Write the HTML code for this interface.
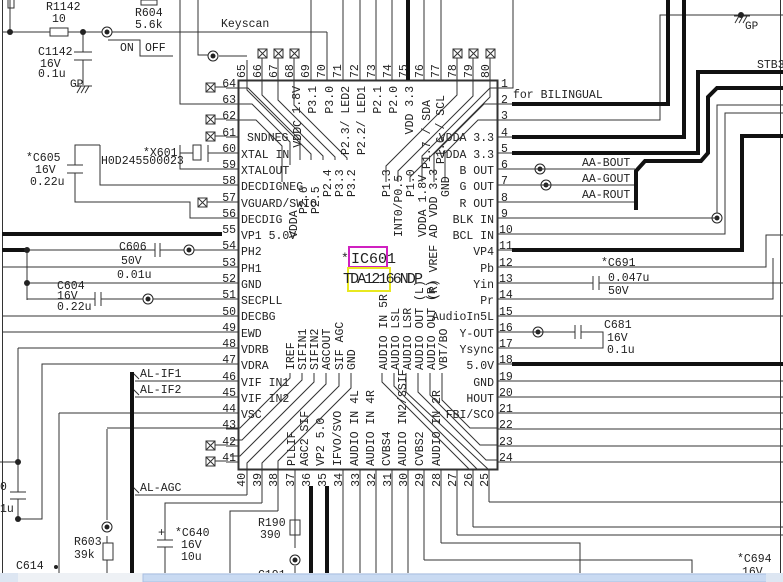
<!DOCTYPE html>
<html><head><meta charset="utf-8"><style>
html,body{margin:0;padding:0;background:#fff;width:783px;height:582px;overflow:hidden}
svg{display:block}
text{font-family:"Liberation Mono",monospace;font-size:11.5px;fill:#222}
.s{font-size:11px}
</style></head><body>
<svg width="783" height="582" viewBox="0 0 783 582" xmlns="http://www.w3.org/2000/svg">
<g stroke="#333" stroke-width="1" fill="none">
<!-- borders -->
<line x1="2.5" y1="0" x2="2.5" y2="573"/>
<line x1="780.5" y1="0" x2="780.5" y2="573"/>
<!-- IC box -->
<rect x="238.5" y="80.5" width="259" height="389" stroke-width="2"/>
</g>

<!-- left pins -->
<g stroke="#333" fill="none">
<path d="M226 88H238M226 104H238M226 120H238M226 137H238M226 153H238M226 169H238M226 185H238M226 202H238M226 218H238M226 250H238M226 267H238M226 283H238M226 299H238M226 316H238M226 332H238M226 348H238M226 364H238M226 381H238M226 397H238M226 413H238M226 429H238M226 446H238M226 462H238"/>
<path d="M498 88H512M498 104H512M498 120H512M498 137H512M498 153H512M498 169H512M498 185H512M498 202H512M498 218H512M498 234H512M498 250H512M498 267H512M498 283H512M498 299H512M498 316H512M498 332H512M498 348H512M498 364H512M498 381H512M498 397H512M498 413H512M498 429H512M498 446H512M498 462H512"/>
<!-- top pin lines -->
<path d="M247 60V80M262 56V80M278 56V80M294 56V80M311 0V80M327 32V80M343 0V80M360 0V80M376 0V80M392 0V80M424 0V80M441 0V80M457 56V80M473 56V80M490 56V80"/>
<!-- bottom pin lines -->
<path d="M247 470V495M262 470V503M278 470V511M295 470V520M343 470V573M360 470V573M376 470V573M392 470V573M408 470V573M424 470V560M441 470V543M457 470V535M473 470V527M489 470V502"/>
</g>
<g stroke="#111" stroke-width="4" fill="none">
<path d="M408 0V80"/>
<path d="M311 486V573M327 486V573"/>
</g>

<!-- left pin numbers -->
<g text-anchor="end">
<text x="236" y="87">64</text><text x="236" y="103">63</text><text x="236" y="119">62</text><text x="236" y="136">61</text>
<text x="236" y="152">60</text><text x="236" y="168">59</text><text x="236" y="184">58</text><text x="236" y="201">57</text>
<text x="236" y="217">56</text><text x="236" y="233">55</text><text x="236" y="249">54</text><text x="236" y="266">53</text>
<text x="236" y="282">52</text><text x="236" y="298">51</text><text x="236" y="315">50</text><text x="236" y="331">49</text>
<text x="236" y="347">48</text><text x="236" y="363">47</text><text x="236" y="380">46</text><text x="236" y="396">45</text>
<text x="236" y="412">44</text><text x="236" y="428">43</text><text x="236" y="445">42</text><text x="236" y="461">41</text>
</g>
<!-- left labels -->
<g>
<text x="247" y="141">SNDNEG</text>
<text x="241" y="158">XTAL IN</text><text x="241" y="174">XTALOUT</text><text x="241" y="190">DECDIGNEG</text>
<text x="241" y="207">VGUARD/SWIO</text><text x="241" y="223">DECDIG</text><text x="241" y="239">VP1 5.0V</text>
<text x="241" y="255">PH2</text><text x="241" y="272">PH1</text><text x="241" y="288">GND</text><text x="241" y="304">SECPLL</text>
<text x="241" y="320">DECBG</text><text x="241" y="337">EWD</text><text x="241" y="353">VDRB</text><text x="241" y="369">VDRA</text>
<text x="241" y="386">VIF IN1</text><text x="241" y="402">VIF IN2</text><text x="241" y="418">VSC</text>
</g>
<!-- right pin numbers -->
<g>
<text x="501" y="87">1</text><text x="501" y="103">2</text><text x="501" y="119">3</text><text x="501" y="136">4</text>
<text x="501" y="152">5</text><text x="501" y="168">6</text><text x="501" y="184">7</text><text x="501" y="201">8</text>
<text x="501" y="217">9</text><text x="499" y="233">10</text><text x="499" y="249">11</text><text x="499" y="266">12</text>
<text x="499" y="282">13</text><text x="499" y="298">14</text><text x="499" y="315">15</text><text x="499" y="331">16</text>
<text x="499" y="347">17</text><text x="499" y="363">18</text><text x="499" y="380">19</text><text x="499" y="396">20</text>
<text x="499" y="412">21</text><text x="499" y="428">22</text><text x="499" y="445">23</text><text x="499" y="461">24</text>
</g>
<g text-anchor="end">
<text x="494" y="141">VDDA 3.3</text><text x="494" y="158">VDDA 3.3</text><text x="494" y="174">B OUT</text>
<text x="494" y="190">G OUT</text><text x="494" y="207">R OUT</text><text x="494" y="223">BLK IN</text>
<text x="494" y="239">BCL IN</text><text x="494" y="255">VP4</text><text x="494" y="272">Pb</text>
<text x="494" y="288">Yin</text><text x="494" y="304">Pr</text><text x="494" y="320">AudioIn5L</text>
<text x="494" y="337">Y-OUT</text><text x="494" y="353">Ysync</text><text x="494" y="369">5.0V</text>
<text x="494" y="386">GND</text><text x="494" y="402">HOUT</text><text x="494" y="418">FBI/SCO</text>
</g>
<text x="513" y="98">for BILINGUAL</text>

<!-- top pin numbers (rotated) -->
<g>
<text transform="translate(245 78) rotate(-90)">65</text><text transform="translate(261 78) rotate(-90)">66</text>
<text transform="translate(277 78) rotate(-90)">67</text><text transform="translate(293 78) rotate(-90)">68</text>
<text transform="translate(309 78) rotate(-90)">69</text><text transform="translate(325 78) rotate(-90)">70</text>
<text transform="translate(341 78) rotate(-90)">71</text><text transform="translate(358 78) rotate(-90)">72</text>
<text transform="translate(375 78) rotate(-90)">73</text><text transform="translate(391 78) rotate(-90)">74</text>
<text transform="translate(407 78) rotate(-90)">75</text><text transform="translate(423 78) rotate(-90)">76</text>
<text transform="translate(439 78) rotate(-90)">77</text><text transform="translate(456 78) rotate(-90)">78</text>
<text transform="translate(472 78) rotate(-90)">79</text><text transform="translate(489 78) rotate(-90)">80</text>
</g>
<!-- bottom pin numbers -->
<g text-anchor="end">
<text transform="translate(245 473) rotate(-90)">40</text><text transform="translate(261 473) rotate(-90)">39</text>
<text transform="translate(277 473) rotate(-90)">38</text><text transform="translate(294 473) rotate(-90)">37</text>
<text transform="translate(310 473) rotate(-90)">36</text><text transform="translate(326 473) rotate(-90)">35</text>
<text transform="translate(342 473) rotate(-90)">34</text><text transform="translate(359 473) rotate(-90)">33</text>
<text transform="translate(375 473) rotate(-90)">32</text><text transform="translate(391 473) rotate(-90)">31</text>
<text transform="translate(407 473) rotate(-90)">30</text><text transform="translate(423 473) rotate(-90)">29</text>
<text transform="translate(440 473) rotate(-90)">28</text><text transform="translate(456 473) rotate(-90)">27</text>
<text transform="translate(472 473) rotate(-90)">26</text><text transform="translate(488 473) rotate(-90)">25</text>
</g>

<!-- inside top labels (anchor end at top) -->
<g text-anchor="end">
<text transform="translate(300 86) rotate(-90)">1.8V</text>
<text transform="translate(316 86) rotate(-90)">P3.1</text>
<text transform="translate(333 86) rotate(-90)">P3.0</text>
<text transform="translate(349 86) rotate(-90)">P2.3/  LED2</text>
<text transform="translate(365 86) rotate(-90)">P2.2/  LED1</text>
<text transform="translate(381 86) rotate(-90)">P2.1</text>
<text transform="translate(397 86) rotate(-90)">P2.0</text>
<text transform="translate(413 86) rotate(-90)">VDD 3.3</text>
<text transform="translate(430 100) rotate(-90)">P1.7 / SDA</text>
<text transform="translate(444 95) rotate(-90)">P1.6 / SCL</text>
<text transform="translate(301 120) rotate(-90)">VDDC</text>
</g>
<!-- inside labels, bottom anchored -->
<g>
<text transform="translate(297 238) rotate(-90)">VDDA</text>
<text transform="translate(307 214) rotate(-90)">P2.6</text>
<text transform="translate(319 214) rotate(-90)">P2.5</text>
<text transform="translate(331 197) rotate(-90)">P2.4</text>
<text transform="translate(343 197) rotate(-90)">P3.3</text>
<text transform="translate(355 197) rotate(-90)">P3.2</text>
<text transform="translate(390 197) rotate(-90)">P1.3</text>
<text transform="translate(402 237) rotate(-90)">INT0/P0.5</text>
<text transform="translate(414 197) rotate(-90)">P1.0</text>
<text transform="translate(426 237) rotate(-90)">VDDA 1.8V</text>
<text transform="translate(437 300) rotate(-90)">(R) VREF AD VDD 3.3</text>
<text transform="translate(449 197) rotate(-90)">GND</text>
<text transform="translate(294 370) rotate(-90)">IREF</text>
<text transform="translate(306 370) rotate(-90)">SIFIN1</text>
<text transform="translate(318 370) rotate(-90)">SIFIN2</text>
<text transform="translate(330 370) rotate(-90)">AGCOUT</text>
<text transform="translate(343 370) rotate(-90)">SIF AGC</text>
<text transform="translate(355 370) rotate(-90)">GND</text>
<text transform="translate(295 466) rotate(-90)">PLLIF</text>
<text transform="translate(308 466) rotate(-90)">AGC2 SIF</text>
<text transform="translate(324 466) rotate(-90)">VP2 5.0</text>
<text transform="translate(341 466) rotate(-90)">IFVO/SVO</text>
<text transform="translate(358 466) rotate(-90)">AUDIO IN 4L</text>
<text transform="translate(374 466) rotate(-90)">AUDIO IN 4R</text>
<text transform="translate(390 466) rotate(-90)">CVBS4</text>
<text transform="translate(406 466) rotate(-90)">AUDIO IN2/SSIF</text>
<text transform="translate(423 466) rotate(-90)">CVBS2</text>
<text transform="translate(440 466) rotate(-90)">AUDIO IN 2R</text>
<text transform="translate(387 370) rotate(-90)">AUDIO IN 5R</text>
<text transform="translate(399 370) rotate(-90)">AUDIO LSL</text>
<text transform="translate(411 370) rotate(-90)">AUDIO LSR</text>
<text transform="translate(423 370) rotate(-90)">AUDIO OUT (L)</text>
<text transform="translate(435 370) rotate(-90)">AUDIO OUT (R)</text>
<text transform="translate(447 370) rotate(-90)">VBT/BO</text>
</g>

<!-- diagonal bundles -->
<g stroke="#333" fill="none">
<path d="M238 88H248L300 140V160"/>
<path d="M247 80V90L311 154V160"/>
<path d="M262 80V95L323 156V160"/>
<path d="M278 80V100L335 157V160"/>
<path d="M294 80V105L347 158V160"/>
<path d="M238 104H252L290 142V165"/>
<path d="M238 120H256L282 146V182"/>
<!-- top right -->
<path d="M457 80V95L386 166V182"/>
<path d="M473 80V96L398 171V182"/>
<path d="M490 80V97L410 177V182"/>
<path d="M498 88H490L422 156V182"/>
<path d="M498 104H484L434 154V182"/>
<path d="M498 120H478L445 153V182"/>
<!-- bottom left -->
<path d="M290 373V378L240 428H107"/>
<path d="M302 373V380L242 440H230"/>
<path d="M314 373V382L240 456H230"/>
<path d="M326 373V384L247 463V470"/>
<path d="M339 373V386L262 463V470"/>
<path d="M351 373V388L278 461V470"/>
<!-- bottom right -->
<path d="M382 373V382L470 470"/>
<path d="M394 373V386L478 470"/>
<path d="M406 373V392L489 470"/>
<path d="M418 373V392L486 460H498"/>
<path d="M430 373V395L480 445H498"/>
<path d="M442 373V400L470 428H498"/>
</g>

<!-- IC name -->
<text x="341" y="262" style="font-size:13px">*</text>
<rect x="349" y="247" width="38" height="20" fill="none" stroke="#d020c0" stroke-width="2"/>
<text x="351" y="263" style="font-size:15px">IC601</text>
<rect x="348" y="268" width="42" height="23" fill="none" stroke="#e8e820" stroke-width="2"/>
<text x="343" y="283" style="font-size:15px" textLength="80">TDA12166NDP</text>

<!-- X marks -->
<g fill="#fff" stroke="#333">
<rect x="206" y="83" width="9" height="9"/><rect x="206" y="115" width="9" height="9"/><rect x="206" y="132" width="9" height="9"/>
<rect x="198" y="198" width="9" height="9"/><rect x="206" y="441" width="9" height="9"/><rect x="206" y="457" width="9" height="9"/>
<rect x="258" y="49" width="9" height="9"/><rect x="274" y="49" width="9" height="9"/><rect x="290" y="49" width="9" height="9"/>
<rect x="453" y="49" width="9" height="9"/><rect x="469" y="49" width="9" height="9"/><rect x="486" y="49" width="9" height="9"/>
</g>
<g stroke="#333">
<path d="M206 83l9 9M215 83l-9 9M206 115l9 9M215 115l-9 9M206 132l9 9M215 132l-9 9M198 198l9 9M207 198l-9 9M206 441l9 9M215 441l-9 9M206 457l9 9M215 457l-9 9M258 49l9 9M267 49l-9 9M274 49l9 9M283 49l-9 9M290 49l9 9M299 49l-9 9M453 49l9 9M462 49l-9 9M469 49l9 9M478 49l-9 9M486 49l9 9M495 49l-9 9"/>
<path d="M215 87H226M215 119H226M215 136H226M207 202H226M215 445H226M215 461H226"/>
</g>

<!-- left externals -->
<g stroke="#333" fill="none">
<path d="M2 32H50M68 32H327"/>
<rect x="50" y="28" width="18" height="8"/>
<path d="M10 0V32M8 0V8H14V0"/>
<path d="M83 32V52M83 60V85M74 52H92M74 60H92"/>
<path d="M77 93L81 86M81 93L85 86M85 93L89 86M76 86H92"/>
<path d="M108 40H140V56H173"/>
<rect x="141" y="0" width="16" height="5"/>
<path d="M198 0V55H213M219 56H247"/>
<path d="M180 0V104H238"/>
<path d="M238 153H208M193 153H180M180 145V162M208 145V162"/>
<rect x="193" y="145" width="8" height="15"/>
<path d="M180 153V169H238"/>
<path d="M100 145H75V165M67 165H83M67 173H83M75 173V202H190V218H238M100 145V185H238"/>
<path d="M2 267H238M2 316H238M2 332H238"/>
<path d="M27 250H155M160 250H238M27 250V300"/>
<path d="M155 243V257M160 243V257"/>
<path d="M27 283H238M27 299H95M101 299H238M95 292V306M101 292V306"/>
<path d="M18 348H238M18 348V462M0 462H18M18 462V492M10 492H26M10 499H26M18 499V519H42V364H238"/>
<path d="M59 413H238M59 413V573"/>
<path d="M135 381H238M135 397H238M133 373l6 6M133 389l6 6"/>
<path d="M107 429V520M107 536V543M107 560V573"/>
<rect x="103" y="543" width="10" height="17"/>
<path d="M135 495H247M133 487l6 6"/>
<path d="M262 503H165V540M157 540H173M157 547H173M165 547V573"/>
<path d="M278 511H230V573"/>
<path d="M295 520V548M295 566V573"/>
<rect x="290" y="520" width="10" height="15"/>
</g>
<g stroke="#111" stroke-width="4" fill="none">
<path d="M2 234H222"/>
<path d="M2 250H27"/>
<path d="M132 372V573"/>
</g>
<g fill="#222">
<circle cx="10" cy="32" r="3"/><circle cx="83" cy="32" r="3"/>
<circle cx="27" cy="250" r="3"/><circle cx="27" cy="283" r="3"/>
<circle cx="18" cy="462" r="3"/><circle cx="18" cy="519" r="3"/>
<circle cx="56" cy="567" r="2"/>
</g>
<g stroke="#222" fill="#fff" stroke-width="1">
<circle cx="107" cy="32" r="5"/><circle cx="213" cy="56" r="5"/><circle cx="189" cy="250" r="5"/>
<circle cx="148" cy="299" r="5"/><circle cx="107" cy="527" r="5"/><circle cx="295" cy="560" r="5"/>
<circle cx="540" cy="169" r="5"/><circle cx="546" cy="185" r="5"/><circle cx="717" cy="218" r="5"/><circle cx="538" cy="332" r="5"/>
</g>
<g fill="#222">
<circle cx="107" cy="32" r="2.5"/><circle cx="213" cy="56" r="2.5"/><circle cx="189" cy="250" r="2.5"/>
<circle cx="148" cy="299" r="2.5"/><circle cx="107" cy="527" r="2.5"/><circle cx="295" cy="560" r="2.5"/>
<circle cx="540" cy="169" r="2.5"/><circle cx="546" cy="185" r="2.5"/><circle cx="717" cy="218" r="2.5"/><circle cx="538" cy="332" r="2.5"/>
</g>
<g>
<text x="46" y="10">R1142</text><text x="52" y="22">10</text>
<text x="135" y="16">R604</text><text x="135" y="28">5.6k</text>
<text x="221" y="27">Keyscan</text>
<text x="120" y="51">ON</text><text x="145" y="51">OFF</text>
<text x="38" y="55">C1142</text><text x="40" y="67">16V</text><text x="38" y="77">0.1u</text>
<text x="70" y="87" class="s">GP</text>
<text x="143" y="156">*X601</text><text x="101" y="164">H0D245500023</text>
<text x="26" y="161">*C605</text><text x="35" y="173">16V</text><text x="30" y="185">0.22u</text>
<text x="119" y="250">C606</text><text x="121" y="264">50V</text><text x="117" y="278">0.01u</text>
<text x="57" y="289">C604</text><text x="57" y="299">16V</text><text x="57" y="310">0.22u</text>
<text x="0" y="490">0</text><text x="0" y="512">1u</text>
<text x="140" y="377">AL-IF1</text><text x="140" y="393">AL-IF2</text><text x="140" y="491">AL-AGC</text>
<text x="74" y="545">R603</text><text x="74" y="558">39k</text>
<text x="16" y="569">C614</text>
<text x="158" y="536">+</text>
<text x="175" y="536">*C640</text><text x="181" y="548">16V</text><text x="181" y="560">10u</text>
<text x="258" y="526">R190</text><text x="260" y="538">390</text>
<text x="258" y="578">C191</text>
</g>

<!-- right externals -->
<g stroke="#333" fill="none">
<path d="M512 88H513V0"/>
<path d="M512 120H660V15H783"/>
<path d="M735 23L739 16M739 23L743 16M743 23L747 16M734 16H750M741 15V16"/>
<path d="M512 169H635M512 185H635M512 202H635"/>
<path d="M512 218H717M717 213V105H783"/>
<path d="M512 234H725V113H783"/>
<path d="M512 267H766V235H783"/>
<path d="M512 283H593M599 283H783M593 276V290M599 276V290"/>
<path d="M512 299H773V258"/>
<path d="M512 316H783"/>
<path d="M512 332H575M581 332H603V348H512M575 325V339M581 325V339"/>
<path d="M512 381H783M512 397H783M512 413H783M512 429H783M512 446H783M512 462H783"/>
<path d="M489 502H783M473 527H783M457 535H783M441 543H580V573M424 560H692V573"/>
</g>
<g stroke="#111" stroke-width="4" fill="none">
<path d="M512 104H668V0"/>
<path d="M512 137H684V0"/>
<path d="M512 153H698V72H783"/>
<path d="M636 210V171L645 161H701L708 153V97L717 88H783"/>
<path d="M512 250H742V136H783"/>
<path d="M512 364H783"/>
</g>
<circle cx="741" cy="15" r="3" fill="#222"/>
<g>
<text x="745" y="29" class="s">GP</text>
<text x="757" y="68">STB3</text>
<text x="582" y="166">AA-BOUT</text><text x="582" y="182">AA-GOUT</text><text x="582" y="198">AA-ROUT</text>
<text x="601" y="266">*C691</text><text x="608" y="281">0.047u</text><text x="608" y="294">50V</text>
<text x="604" y="328">C681</text><text x="607" y="341">16V</text><text x="607" y="353">0.1u</text>
<text x="737" y="562">*C694</text><text x="742" y="575">16V</text>
</g>

<!-- scrollbar -->
<rect x="0" y="573" width="783" height="9" fill="#eef1f5"/>
<rect x="143" y="574" width="625" height="8" fill="#c9daf2" stroke="#a9c0e3"/>
<rect x="0" y="573" width="18" height="9" fill="#dde6f2"/>
<rect x="766" y="573" width="17" height="9" fill="#dde6f2"/>
</svg>
</body></html>
